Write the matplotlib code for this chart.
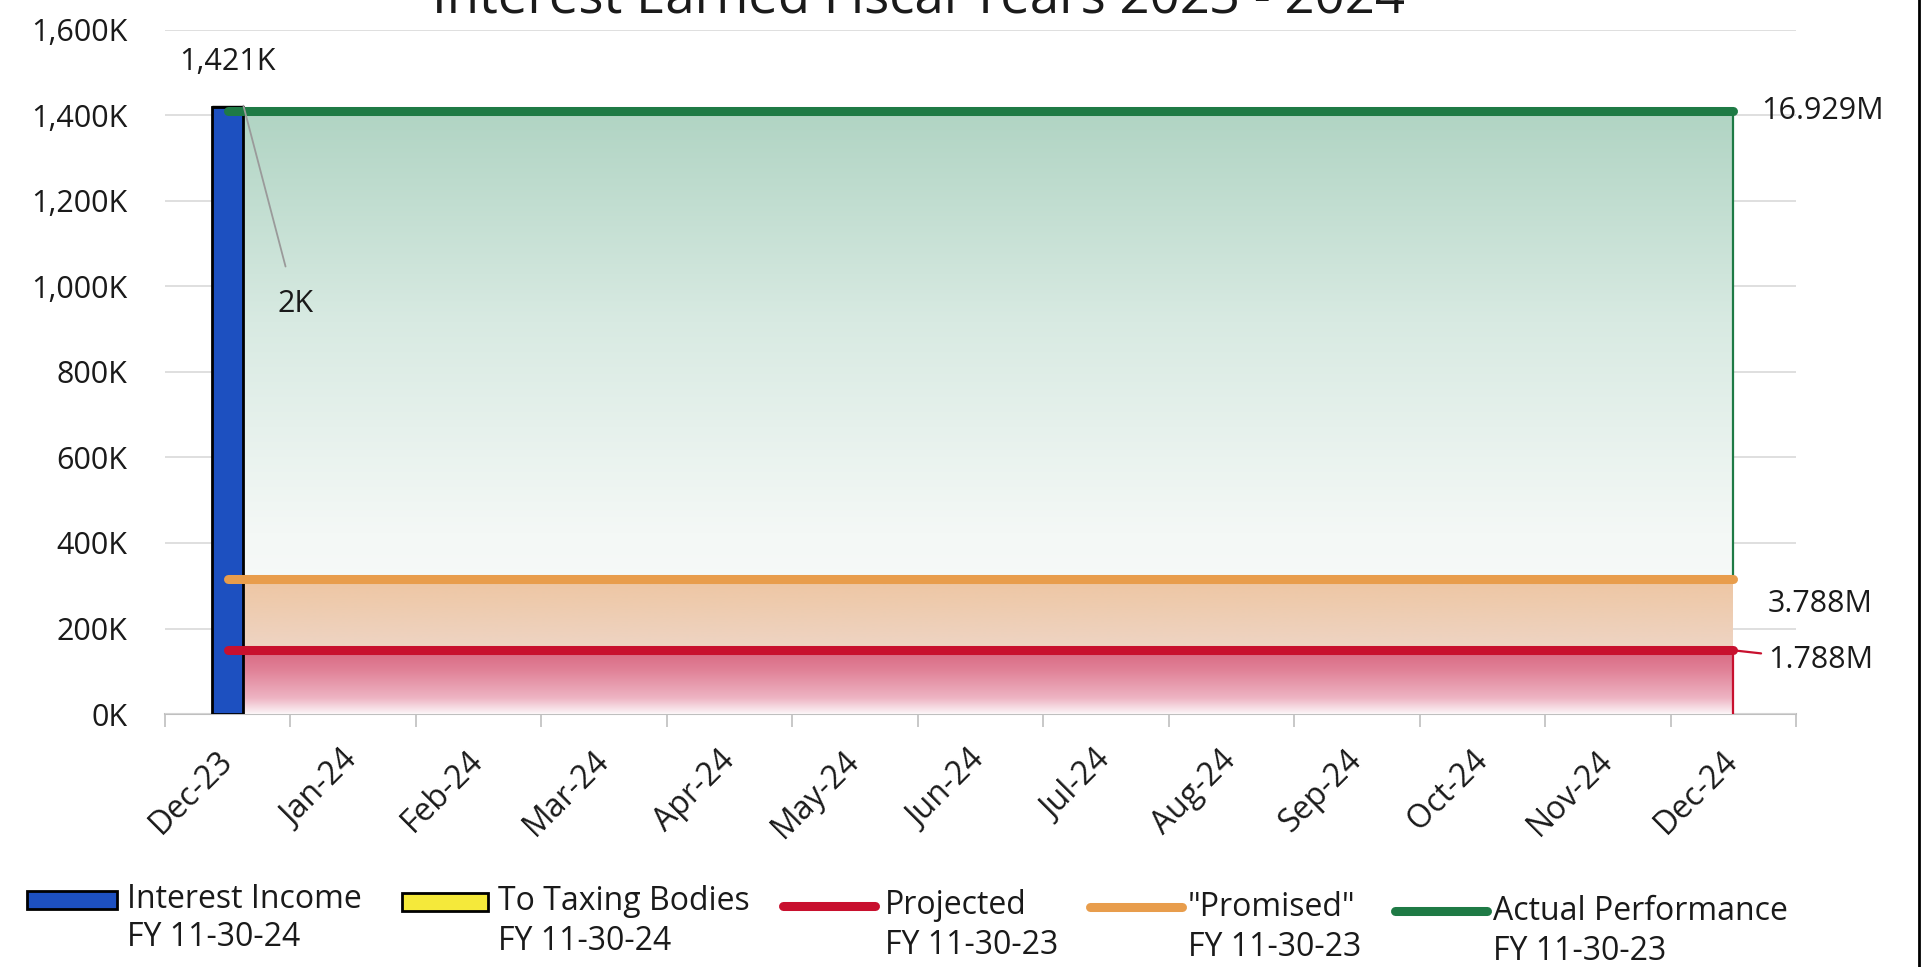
import numpy as np
import matplotlib
matplotlib.use("Agg")
import matplotlib.pyplot as plt
from matplotlib.lines import Line2D
from matplotlib.patches import Rectangle

plt.rcParams['font.family'] = ['Open Sans', 'DejaVu Sans']

# ---------------- data ----------------
months = ["Dec-23", "Jan-24", "Feb-24", "Mar-24", "Apr-24", "May-24", "Jun-24",
          "Jul-24", "Aug-24", "Sep-24", "Oct-24", "Nov-24", "Dec-24"]
interest_income = [1421]          # K, FY 11-30-24 (only Dec-23 so far)
to_taxing = [2]                   # K, FY 11-30-24
projected = [149] * 13            # K, FY 11-30-23
promised = [315.7] * 13           # K, FY 11-30-23
actual = [1410.75] * 13           # K, FY 11-30-23
total_labels = {"actual": "16.929M", "promised": "3.788M", "projected": "1.788M"}
yticks = [0, 200, 400, 600, 800, 1000, 1200, 1400, 1600]
ytick_labels = ["0K", "200K", "400K", "600K", "800K", "1,000K", "1,200K", "1,400K", "1,600K"]
title = "Interest Earned Fiscal Years 2023 - 2024"
legend_entries = [
    ("Interest Income", "FY 11-30-24"),
    ("To Taxing Bodies", "FY 11-30-24"),
    ("Projected", "FY 11-30-23"),
    ('"Promised"', "FY 11-30-23"),
    ("Actual Performance", "FY 11-30-23"),
]

# ---------------- styles ----------------
C_BLUE = "#1d50c0"
C_YEL = "#f5e93a"
C_RED = "#c8102e"
C_ORG = "#e89d4c"
C_GRN = "#1e7a45"
TXT = "#1a1a1a"

W, H = 1927, 967
fig = plt.figure(figsize=(W / 100, H / 100), dpi=100)
ax = fig.add_axes([165 / W, 1 - 714 / H, (1796 - 165) / W, (714 - 30) / H])

x = np.arange(len(months))


def grad_fill(ax, xv, yv, stops, zorder):
    """Vertical gradient area under yv. stops: list of (frac_of_top, rgb)."""
    poly = ax.fill_between(xv, 0, yv, facecolor="none", edgecolor="none", zorder=zorder)
    top = max(yv)
    n = 400
    fr = np.linspace(0, 1, n)
    sp = np.array([s[0] for s in stops])
    cols = np.array([s[1] for s in stops], dtype=float) / 255.0
    rgb = np.stack([np.interp(fr, sp, cols[:, k]) for k in range(3)], axis=1)
    img = np.repeat(rgb[:, None, :], 2, axis=1)
    im = ax.imshow(img, extent=[xv[0], xv[-1], 0, top], origin="lower",
                   aspect="auto", zorder=zorder, interpolation="bilinear")
    im.set_clip_path(poly.get_paths()[0], transform=ax.transData)
    return im


# gradient areas
grad_fill(ax, x, actual, [(0.0, (252, 253, 253)), (0.3, (244, 248, 246)),
                          (0.65, (216, 234, 226)), (1.0, (176, 212, 195))], 1)
grad_fill(ax, x, promised, [(0.0, (240, 200, 200)), (0.5, (238, 212, 195)),
                            (1.0, (238, 198, 162))], 2)
grad_fill(ax, x, projected, [(0.0, (252, 246, 248)), (0.25, (238, 180, 195)),
                             (0.7, (224, 128, 150)), (1.0, (216, 104, 130))], 3)

# area right edges
ax.vlines(x[-1], promised[-1], actual[-1], color=C_GRN, lw=1.6, zorder=3.5)
ax.vlines(x[-1], 0, projected[-1], color=C_RED, lw=1.6, zorder=3.5)

# bars
ax.bar(x[:1], interest_income, width=0.25, color=C_BLUE, edgecolor="black", lw=2, zorder=4)
ax.bar(x[:1], to_taxing, width=0.25, bottom=interest_income, color=C_YEL,
       edgecolor="black", lw=1, zorder=4)

# lines
for vals, col in [(actual, C_GRN), (promised, C_ORG), (projected, C_RED)]:
    ax.plot(x, vals, color=col, lw=6.5, solid_capstyle="round", zorder=5)

# axes styling
ax.set_xlim(-0.5, len(months) - 0.5)
ax.set_ylim(0, 1600)
ax.set_yticks(yticks)
ax.set_yticklabels(ytick_labels)
ax.set_xticks(x)
ax.set_xticklabels(months, rotation=45, ha="right", va="center", rotation_mode="anchor")
ax.set_xticks(np.arange(-0.5, len(months) + 0.5, 1), minor=True)
ax.tick_params(axis="y", length=0, pad=27, labelsize=22, colors=TXT)
ax.tick_params(axis="x", which="major", length=0, pad=30, labelsize=23, colors=TXT)
ax.tick_params(axis="x", which="minor", length=9, color="#bfbfbf", width=1.2)
for s in ["left", "right", "top"]:
    ax.spines[s].set_visible(False)
ax.spines["bottom"].set_color("#bfbfbf")
ax.spines["bottom"].set_linewidth(1.5)
ax.spines["bottom"].set_zorder(0.5)
ax.grid(axis="y", color="#d9d9d9", lw=1.2, zorder=0)
ax.set_axisbelow(True)
ax.set_facecolor("white")

# data labels
ax.annotate("1,421K", (x[0], interest_income[0]), xytext=(0, 32), textcoords="offset points",
            ha="center", va="center", fontsize=22, color=TXT, zorder=6)
ax.annotate("2K", (x[0] + 0.125, interest_income[0] + to_taxing[0]), xytext=(0.54, 958),
            textcoords="data", ha="center", va="center", fontsize=22, color=TXT,
            arrowprops=dict(arrowstyle="-", color="#9a9a9a", lw=1.3,
                            shrinkA=15, shrinkB=0), zorder=6)
ax.annotate(total_labels["actual"], (x[-1], actual[-1]), xytext=(20, 0),
            textcoords="offset points", ha="left", va="center", fontsize=22,
            color=TXT, annotation_clip=False)
ax.annotate(total_labels["promised"], (x[-1], promised[-1]), xytext=(25, -18),
            textcoords="offset points", ha="left", va="center", fontsize=22,
            color=TXT, annotation_clip=False)
ax.annotate(total_labels["projected"], (x[-1], projected[-1]), xytext=(25, -7),
            textcoords="offset points", ha="left", va="center", fontsize=22,
            color=TXT, annotation_clip=False,
            arrowprops=dict(arrowstyle="-", color=C_RED, lw=1.6, shrinkA=3, shrinkB=0))

# title (cut off at the top like the scan)
fig.text(919 / W, 1 - 13 / H, title, ha="center", va="baseline", fontsize=38, color=TXT)

# right frame line
fig.add_artist(Line2D([1919 / W, 1919 / W], [0, 1], transform=fig.transFigure,
                      color="black", lw=2))

# manual legend
handles_x = [(27, 117), (402, 488), (783, 875), (1090, 1182), (1395, 1487)]
text_x = [127, 498, 885, 1188, 1493]
row1 = [900, 902, 906, 907, 911]
row2 = [938, 941, 945, 948, 951]
kinds = [("rect", C_BLUE), ("rect", C_YEL), ("line", C_RED), ("line", C_ORG), ("line", C_GRN)]
for (hx0, hx1), tx, y1, y2, (kind, col), (l1, l2) in zip(handles_x, text_x, row1, row2, kinds,
                                                         legend_entries):
    if kind == "rect":
        fig.add_artist(Rectangle((hx0 / W, 1 - (y1 + 9) / H), (hx1 - hx0) / W, 18 / H,
                                 transform=fig.transFigure, facecolor=col,
                                 edgecolor="black", lw=2))
    else:
        fig.add_artist(Line2D([hx0 / W, hx1 / W], [1 - y1 / H, 1 - y1 / H],
                              transform=fig.transFigure, color=col, lw=6.5,
                              solid_capstyle="round"))
    fig.text(tx / W, 1 - y1 / H, l1, ha="left", va="center", fontsize=23, color=TXT)
    fig.text(tx / W, 1 - y2 / H, l2, ha="left", va="center", fontsize=23, color=TXT)

fig.savefig("out.png", dpi=100, facecolor="white")
